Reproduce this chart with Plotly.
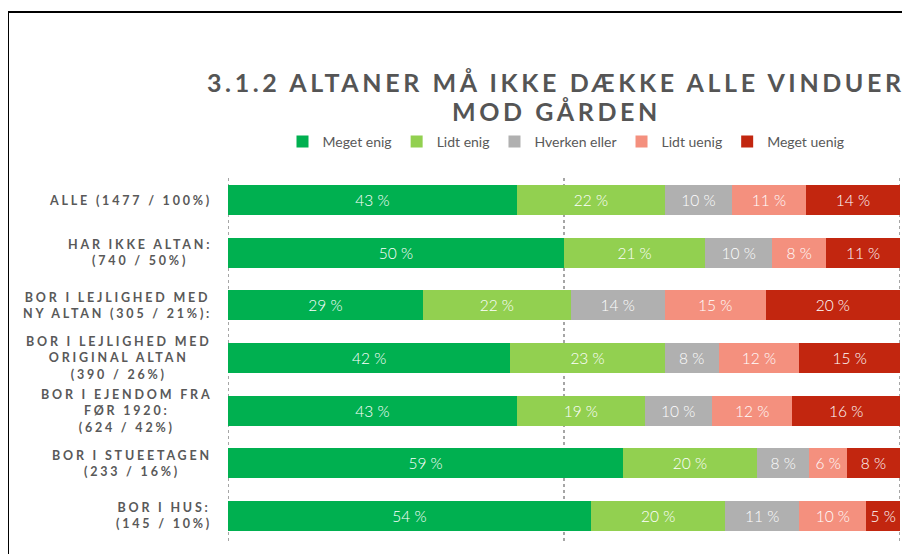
import plotly.graph_objects as go

categories = [
    "ALLE (1477 / 100%)",
    "HAR IKKE ALTAN:<br>(740 / 50%)",
    "BOR I LEJLIGHED MED<br>NY ALTAN (305 / 21%):",
    "BOR I LEJLIGHED MED<br>ORIGINAL ALTAN<br>(390 / 26%)",
    "BOR I EJENDOM FRA<br>FØR 1920:<br>(624 / 42%)",
    "BOR I STUEETAGEN<br>(233 / 16%)",
    "BOR I HUS:<br>(145 / 10%)",
]
series_names = ["Meget enig", "Lidt enig", "Hverken eller", "Lidt uenig", "Meget uenig"]
meget_enig = [43, 50, 29, 42, 43, 58.8, 54]
lidt_enig = [22, 21, 22, 23, 19, 19.9, 20]
hverken_eller = [10, 10, 14, 8, 10, 7.8, 11]
lidt_uenig = [11, 8, 15, 12, 12, 5.6, 10]
meget_uenig = [14, 11, 20, 15, 16, 7.9, 5]
series_values = [meget_enig, lidt_enig, hverken_eller, lidt_uenig, meget_uenig]
colors = ["#00B050", "#92D050", "#B0B0B0", "#F4907E", "#C2260F"]
grid_ticks = [0, 50, 100]
title_lines = ["3.1.2 ALTANER MÅ IKKE DÆKKE ALLE VINDUER", "MOD GÅRDEN"]

# page has an 8px body margin; figure fills the rest of the 910x554 window
OFF = 8
W, H = 910 - OFF, 554 - OFF
# plot area in page pixels: x 228..900, y 174..542
PL, PR, PT, PB = 228, 900, 174, 542
ML, MR, MT, MB = PL - OFF, (OFF + W) - PR, PT - OFF, (OFF + H) - PB
PW, PH = PR - PL, PB - PT


def px_to_paper_x(px):
    return (px - PL) / PW


def px_to_paper_y(py):
    return (PB - py) / PH


def spaced(text, sp, bold=True):
    parts = []
    for line in text.split("<br>"):
        s = "<span style='letter-spacing:%spx'>%s</span>" % (sp, line)
        parts.append("<b>" + s + "</b>" if bold else s)
    return "<br>".join(parts)


fig = go.Figure()
for name, vals, col in zip(series_names, series_values, colors):
    fig.add_trace(go.Bar(
        name=name, y=categories, x=vals, orientation="h",
        marker=dict(color=col, line=dict(width=0)),
        texttemplate="%{x:.0f} %", textposition="inside", insidetextanchor="middle",
        textfont=dict(family="Lato", size=15.5, color="white", weight=300),
        hoverinfo="skip",
    ))

annotations = []
for cat in categories:
    annotations.append(dict(
        x=px_to_paper_x(214), xref="paper", y=cat, yref="y",
        text=spaced(cat, 2.8),
        xanchor="right", yanchor="middle", align="center", showarrow=False,
        font=dict(family="Lato", size=12.5, color="#595959"),
    ))

for line, cy in zip(title_lines, [82, 111]):
    annotations.append(dict(
        x=px_to_paper_x(556), xref="paper", y=px_to_paper_y(cy), yref="paper",
        text=spaced(line, 3.6), xanchor="center", yanchor="middle", showarrow=False,
        font=dict(family="Lato", size=25, color="#555555"),
    ))

shapes = [dict(type="rect", xref="paper", yref="paper",
               x0=px_to_paper_x(8), x1=px_to_paper_x(930),
               y0=px_to_paper_y(580), y1=px_to_paper_y(12),
               line=dict(color="black", width=2), fillcolor="rgba(0,0,0,0)", layer="below")]
for gx in grid_ticks:
    shapes.append(dict(type="line", xref="x", yref="paper", x0=gx, x1=gx,
                       y0=px_to_paper_y(541), y1=px_to_paper_y(175),
                       line=dict(color="#A6A6A6", width=2, dash="dot"), layer="below"))

fig.update_layout(
    width=W, height=H,
    margin=dict(l=ML, r=MR, t=MT, b=MB, autoexpand=False),
    paper_bgcolor="white", plot_bgcolor="white",
    barmode="stack", bargap=0.43,
    legend=dict(orientation="h", x=px_to_paper_x(566), xanchor="center", y=px_to_paper_y(142),
                yanchor="middle", font=dict(family="Lato", size=14, color="#595959"),
                traceorder="normal", itemclick=False, itemwidth=30),
    xaxis=dict(range=[0, 100], showticklabels=False, showgrid=False, zeroline=False, fixedrange=True),
    yaxis=dict(autorange="reversed", showticklabels=False, showgrid=False, zeroline=False),
    annotations=annotations,
    shapes=shapes,
    showlegend=True,
)

fig.write_html("out.html")
